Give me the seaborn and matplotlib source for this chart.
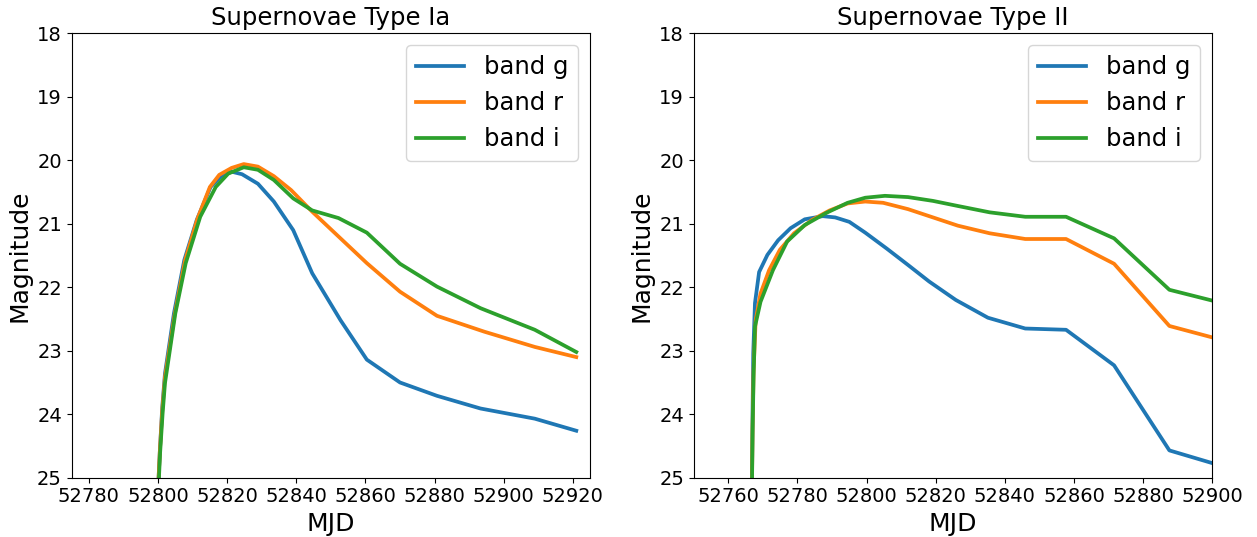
import pandas as pd
import matplotlib.pyplot as plt
import seaborn as sns

# Supernovae Type Ia light curves (MJD, magnitude)
ia_g_mjd = [52799.9, 52800.5, 52801.2, 52802.0, 52804.6, 52807.6, 52811.2, 52815.2, 52818.3,
            52821.3, 52824.3, 52828.9, 52833.5, 52839.1, 52844.6, 52852.8, 52860.4, 52870.0,
            52880.7, 52893.3, 52909.0, 52921.0]
ia_g_mag = [25.3, 24.6, 23.9, 23.36, 22.41, 21.57, 20.94, 20.42, 20.25,
            20.18, 20.22, 20.37, 20.65, 21.10, 21.78, 22.52, 23.14, 23.50,
            23.71, 23.91, 24.07, 24.26]

ia_r_mjd = [52799.9, 52800.5, 52801.2, 52802.0, 52804.8, 52807.8, 52811.4, 52815.0, 52817.7,
            52821.3, 52824.8, 52828.9, 52833.5, 52838.5, 52844.6, 52852.2, 52860.4, 52870.0,
            52880.7, 52894.4, 52909.0, 52921.0]
ia_r_mag = [25.3, 24.6, 23.95, 23.42, 22.43, 21.58, 20.92, 20.42, 20.23,
            20.12, 20.06, 20.10, 20.25, 20.47, 20.81, 21.20, 21.62, 22.07,
            22.45, 22.70, 22.94, 23.10]

ia_i_mjd = [52800.0, 52800.6, 52801.3, 52802.0, 52805.0, 52808.0, 52812.2, 52816.7, 52820.3,
            52824.8, 52828.9, 52833.5, 52839.1, 52844.6, 52852.2, 52860.4, 52870.0,
            52880.7, 52893.3, 52909.0, 52921.0]
ia_i_mag = [25.3, 24.6, 24.0, 23.51, 22.41, 21.62, 20.89, 20.42, 20.21,
            20.11, 20.15, 20.31, 20.60, 20.79, 20.91, 21.14, 21.63,
            21.99, 22.33, 22.67, 23.02]

# Supernovae Type II light curves
ii_g_mjd = [52766.8, 52767.0, 52767.2, 52767.7, 52768.9, 52771.3, 52774.4, 52778.0, 52782.1,
            52787.3, 52790.9, 52795.0, 52799.6, 52805.8, 52812.0, 52818.1, 52825.8, 52835.1,
            52845.9, 52857.7, 52871.6, 52887.6, 52900.0]
ii_g_mag = [25.3, 24.0, 23.04, 22.25, 21.76, 21.49, 21.26, 21.07, 20.93,
            20.88, 20.90, 20.97, 21.14, 21.39, 21.65, 21.91, 22.20, 22.48,
            22.65, 22.67, 23.23, 24.57, 24.77]

ii_r_mjd = [52766.8, 52767.0, 52767.3, 52767.9, 52769.3, 52771.8, 52774.9, 52779.0, 52784.2,
            52789.3, 52794.5, 52799.6, 52804.8, 52812.0, 52819.2, 52826.4, 52835.6, 52845.9,
            52857.7, 52871.6, 52887.6, 52900.0]
ii_r_mag = [25.3, 24.2, 23.3, 22.52, 22.10, 21.73, 21.41, 21.15, 20.94,
            20.79, 20.68, 20.65, 20.67, 20.77, 20.90, 21.03, 21.15, 21.24,
            21.24, 21.63, 22.61, 22.79]

ii_i_mjd = [52766.8, 52767.0, 52767.3, 52767.7, 52769.3, 52772.9, 52777.0, 52782.1, 52788.3,
            52794.5, 52799.6, 52805.3, 52812.0, 52819.2, 52826.4, 52835.6, 52845.9,
            52857.7, 52871.6, 52887.6, 52900.0]
ii_i_mag = [25.3, 24.3, 23.4, 22.62, 22.23, 21.73, 21.28, 21.02, 20.83,
            20.67, 20.59, 20.56, 20.58, 20.64, 20.72, 20.82, 20.89,
            20.89, 21.23, 22.04, 22.21]

bands = ["band g", "band r", "band i"]
colors = ["#1f77b4", "#ff7f0e", "#2ca02c"]


def make_df(curves):
    parts = []
    for band, (mjd, mag) in zip(bands, curves):
        parts.append(pd.DataFrame({"MJD": mjd, "Magnitude": mag, "band": band}))
    return pd.concat(parts, ignore_index=True)


df_ia = make_df([(ia_g_mjd, ia_g_mag), (ia_r_mjd, ia_r_mag), (ia_i_mjd, ia_i_mag)])
df_ii = make_df([(ii_g_mjd, ii_g_mag), (ii_r_mjd, ii_r_mag), (ii_i_mjd, ii_i_mag)])

fig, axes = plt.subplots(1, 2, figsize=(12.57, 5.37), dpi=100)
fig.subplots_adjust(left=0.057, right=0.9644, bottom=0.1104, top=0.938, wspace=0.2)

panels = [(df_ia, "Supernovae Type Ia", (52775, 52925)),
          (df_ii, "Supernovae Type II", (52750, 52900))]

for ax, (df, title, xlim) in zip(axes, panels):
    sns.lineplot(data=df, x="MJD", y="Magnitude", hue="band", hue_order=bands,
                 palette=colors, linewidth=2.7, ax=ax, estimator=None, sort=False)
    ax.set_xlim(*xlim)
    ax.set_ylim(25, 18)
    ax.set_title(title, fontsize=17.5)
    ax.set_xlabel("MJD", fontsize=18)
    ax.set_ylabel("Magnitude", fontsize=18)
    ax.tick_params(labelsize=14)
    ax.ticklabel_format(axis="x", useOffset=False, style="plain")
    ax.legend(loc="upper right", fontsize=17.5)

plt.savefig("out.png", dpi=100)
